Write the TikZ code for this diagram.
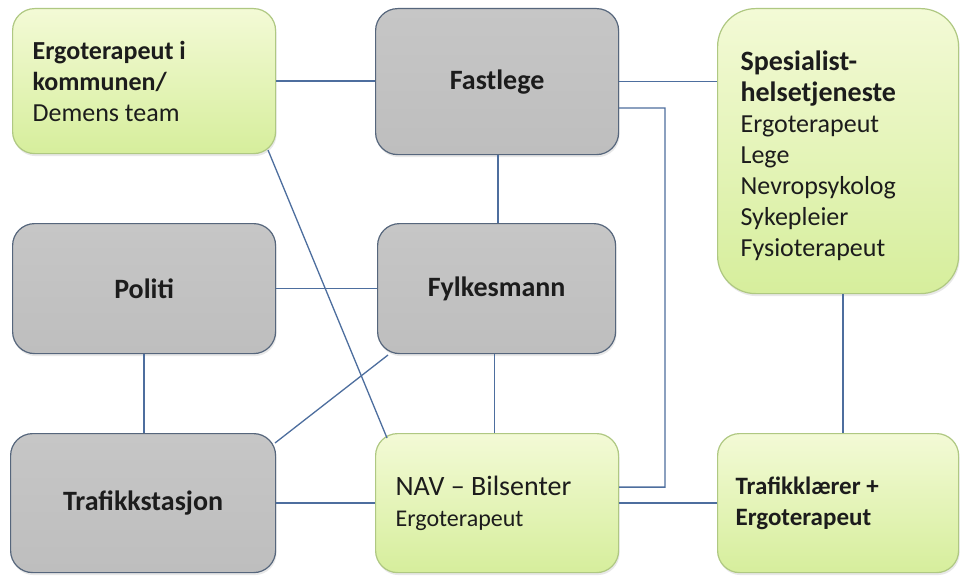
\documentclass[tikz,border=0pt]{standalone}
\usepackage{fontspec}
\setmainfont{Carlito}
\usetikzlibrary{shadows}
\definecolor{greyfill}{HTML}{BEBEBE}
\definecolor{greytop}{HTML}{C6C6C6}
\definecolor{greyline}{HTML}{56667C}
\definecolor{greentop}{HTML}{F3FAD6}
\definecolor{greenbot}{HTML}{D6EE9C}
\definecolor{greenline}{HTML}{AFC882}
\definecolor{conn}{HTML}{4D6E9E}
\definecolor{txt}{HTML}{1C1C1C}
\tikzset{
  box/.style={draw, line width=1.2pt, anchor=north west, inner sep=0pt,
    rounded corners=22pt, text=txt,
    drop shadow={opacity=0.18, shadow xshift=1pt, shadow yshift=-2.5pt}},
  greybox/.style={box, draw=greyline, top color=greytop, bottom color=greyfill, align=center},
  greenbox/.style={box, draw=greenline, top color=greentop, bottom color=greenbot, align=flush left},
  link/.style={draw=conn, line width=1.3pt},
  big/.style={font=\fontsize{28}{31}\selectfont\bfseries},
}
\newcommand{\regtxt}{\fontsize{26}{31}\selectfont\mdseries}
\begin{document}
\begin{tikzpicture}[x=1pt,y=-1pt]
\fill[white] (0,0) rectangle (960,575);
\useasboundingbox (0,0) rectangle (960,575);

% boxes
\node[greenbox, minimum width=263pt, minimum height=145pt, text width=223pt, inner xsep=20pt,
  font=\fontsize{26}{31}\selectfont\bfseries] (ergo) at (12,8)
  {Ergoterapeut i\\kommunen/\\{\regtxt Demens team}};
\node[greybox, big, minimum width=243pt, minimum height=146pt] (fast) at (375,8) {Fastlege};
\node[greenbox, rounded corners=38pt, minimum width=241pt, minimum height=285pt, text width=195pt, inner xsep=23pt,
  font=\fontsize{28}{31}\selectfont\bfseries] (spes) at (717,8)
  {\rule{0pt}{29pt}Spesialist-\\helsetjeneste\\{\regtxt Ergoterapeut}\\{\regtxt Lege}\\{\regtxt Nevropsykolog}\\{\regtxt Sykepleier}\\{\regtxt Fysioterapeut}};
\node[greybox, big, minimum width=263pt, minimum height=130pt] (politi) at (12,223) {Politi};
\node[greybox, big, minimum width=238pt, minimum height=130pt] (fylk) at (377,223) {Fylkesmann};
\node[greybox, big, minimum width=265pt, minimum height=139pt] (traf) at (10,433) {Trafikkstasjon};
\node[greenbox, minimum width=243pt, minimum height=139pt, text width=203pt, inner xsep=20pt,
  font=\fontsize{28}{31}\selectfont\mdseries] (nav) at (375,433)
  {NAV – Bilsenter\\{\fontsize{24}{31}\selectfont Ergoterapeut}};
\node[greenbox, minimum width=241pt, minimum height=139pt, text width=205pt, inner xsep=18pt,
  font=\fontsize{25}{31}\selectfont\bfseries] (trafl) at (717,433)
  {Trafikklærer +\\Ergoterapeut};

% connectors
\coordinate (bend) at (665,108);
\coordinate (ergoc) at (268,150);
\coordinate (navc) at (387,438);
\coordinate (trafc) at (275,443);
\coordinate (fylkc) at (388,355);
\path[link] (ergo.east) -- (ergo.east -| fast.west);
\path[link] (fast.east) -- (fast.east -| spes.west);
\path[link] ([yshift=-26.5pt]fast.east) -- (bend) |- ([yshift=16pt]nav.east);
\path[link] ([xshift=1pt]fast.south) -- ([xshift=1pt]fast.south |- fylk.north);
\path[link] (politi.east) -- (politi.east -| fylk.west);
\path[link] (politi.south) -- (politi.south |- traf.north);
\path[link] (trafc) -- (fylkc);
\path[link] (ergoc) -- (navc);
\path[link] ([xshift=-2pt]fylk.south) -- ([xshift=-2pt]fylk.south |- nav.north);
\path[link] (traf.east) -- (traf.east -| nav.west);
\path[link] (nav.east) -- (nav.east -| trafl.west);
\path[link] ([xshift=5pt]spes.south) -- ([xshift=5pt]spes.south |- trafl.north);
\end{tikzpicture}
\end{document}
